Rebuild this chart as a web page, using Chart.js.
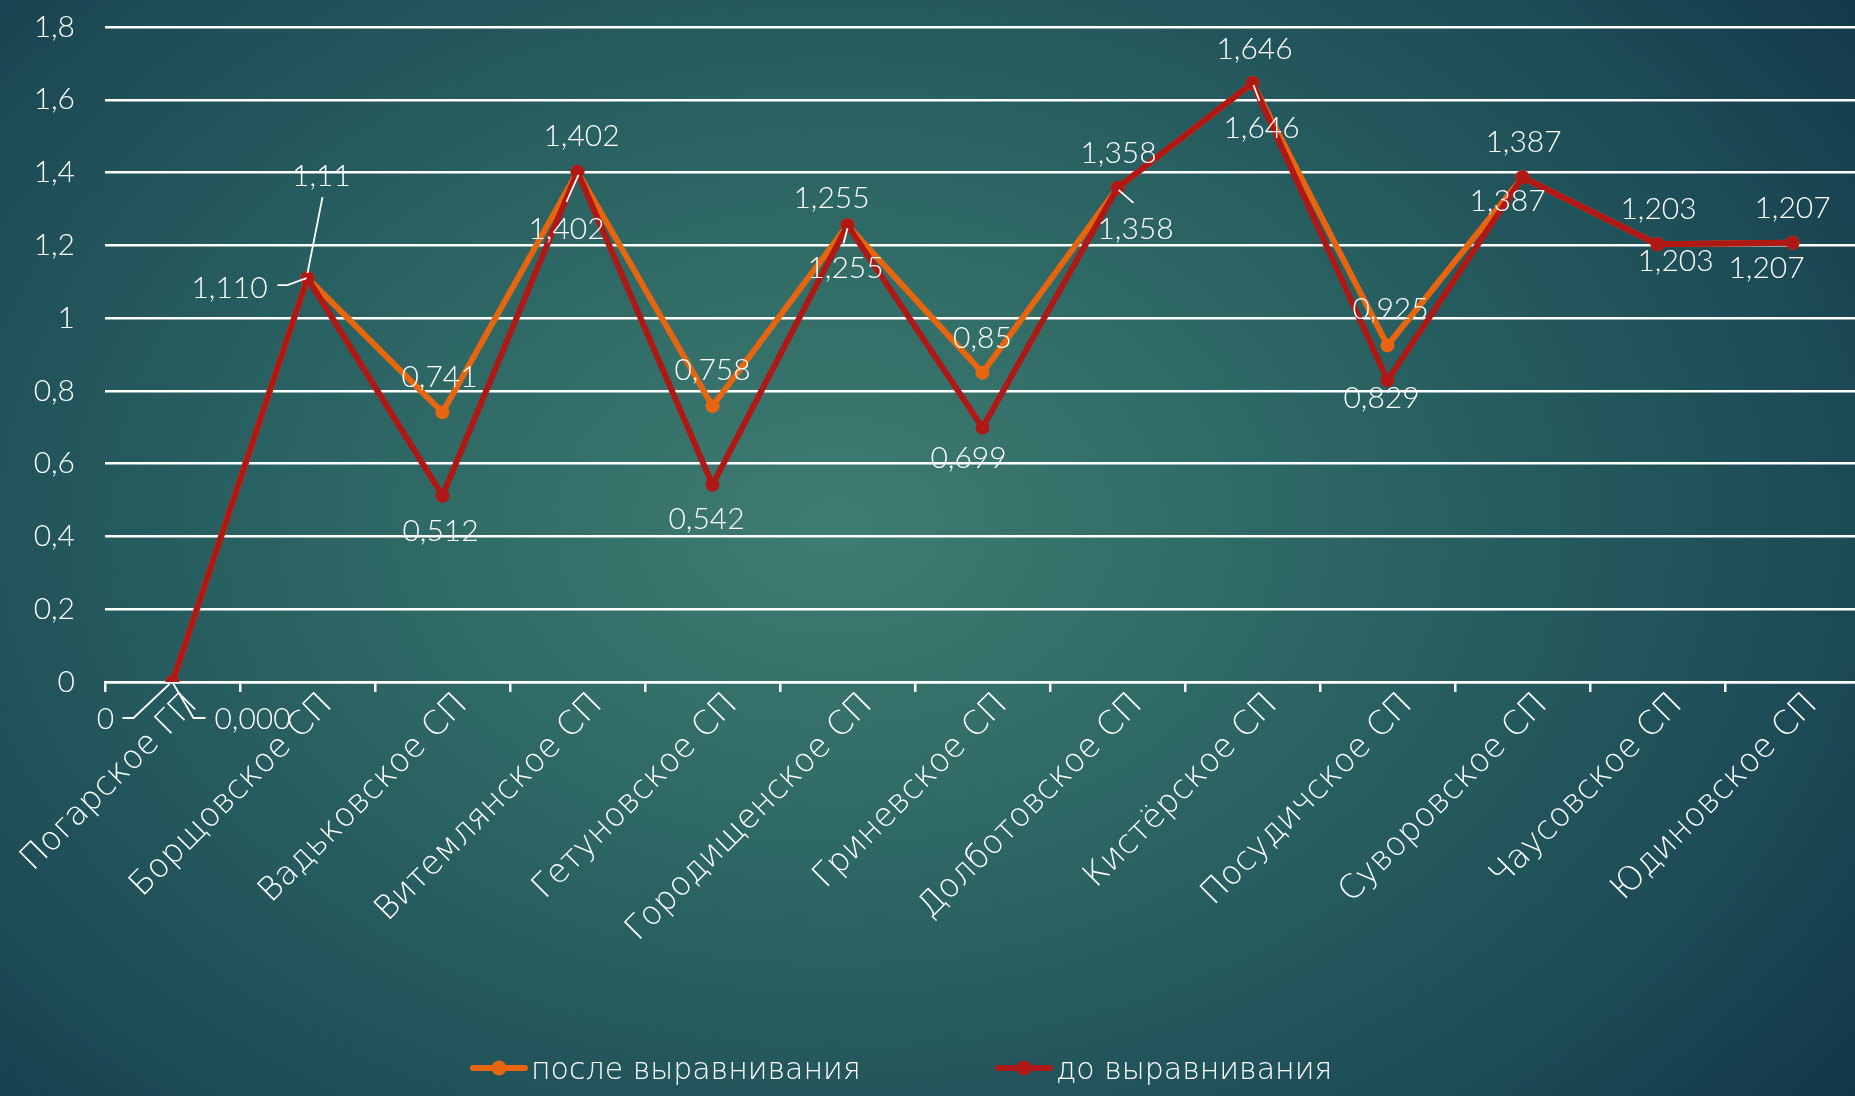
<!DOCTYPE html>
<html>
<head>
<meta charset="utf-8">
<script src="https://cdn.jsdelivr.net/npm/chart.js@4"></script>
<style>
html,body{margin:0;padding:0;width:1855px;height:1096px;overflow:hidden;}
body{background:radial-gradient(ellipse 70% 85% at 45% 48%, #3f7c71 0%, #316c67 28%, #265c5f 52%, #1c4a55 78%, #123646 100%);}
#wrap{position:absolute;left:0;top:0;width:1855px;height:1096px;}
</style>
</head>
<body>
<div id="wrap"><canvas id="c" width="1855" height="1096"></canvas></div>
<script>
// ---- data ----
const categories = ['Погарское ГП','Борщовское СП','Вадьковское СП','Витемлянское СП','Гетуновское СП','Городищенское СП','Гриневское СП','Долботовское СП','Кистёрское СП','Посудичское СП','Суворовское СП','Чаусовское СП','Юдиновское СП'];
const afterValues  = [0, 1.11, 0.741, 1.402, 0.758, 1.255, 0.85, 1.358, 1.646, 0.925, 1.387, 1.203, 1.207];
const beforeValues = [0, 1.110, 0.512, 1.402, 0.542, 1.255, 0.699, 1.358, 1.646, 0.829, 1.387, 1.203, 1.207];
const seriesNames = ['после выравнивания', 'до выравнивания'];
const yTickLabels = ['0','0,2','0,4','0,6','0,8','1','1,2','1,4','1,6','1,8'];

// ---- styling ----
const ORANGE = '#e8650f';
const RED = '#b01815';
const NUM_FONT = '300 30px Lato, "Open Sans", sans-serif';
const TXT_FAMILY = '"DejaVu Sans", "Open Sans", sans-serif';
const PLOT_RIGHT = 1860;

// data label placement (pixel offsets from the point, label centre) per series
const labelPlacement = [
  [ {dx:-67,dy:36, leader:[[-50,36],[-39,36],[-3,2]]}, {dx:14,dy:-103, leader:[[15,-81],[0,-5]]}, {dx:-3,dy:-36}, {dx:-11,dy:56, leader:[[1,3],[-11,30]]}, {dx:0,dy:-37}, {dx:-2,dy:42, leader:[[0,3],[-4,18]]}, {dx:0,dy:-36}, {dx:18,dy:40, leader:[[1,2],[16,15]]}, {dx:9,dy:44, leader:[[1,2],[7,18]]}, {dx:3,dy:-37}, {dx:-15,dy:23}, {dx:18,dy:16}, {dx:-26,dy:24} ],
  [ {dx:80,dy:36, leader:[[1,2],[21,36],[33,36]]}, {dx:-78,dy:9, leader:[[-30,7],[-20,7],[-1,0]]}, {dx:-2,dy:34}, {dx:4,dy:-37}, {dx:-6,dy:33}, {dx:-16,dy:-28}, {dx:-14,dy:29}, {dx:1,dy:-36}, {dx:2,dy:-35}, {dx:-6,dy:17}, {dx:1,dy:-36}, {dx:1,dy:-36}, {dx:0,dy:-36} ]
];
const labelFormat = [
  v => String(v).replace('.', ','),
  v => v.toFixed(3).replace('.', ',')
];

// stretch the plot area to the right edge as in the original slide
const stretchPlugin = {
  id: 'stretchRight',
  afterLayout(chart) {
    const xs = chart.scales.x;
    xs.right = PLOT_RIGHT;
    xs.width = PLOT_RIGHT - xs.left;
    xs.configure();
    chart.chartArea.right = PLOT_RIGHT;
    chart.chartArea.width = PLOT_RIGHT - chart.chartArea.left;
  }
};

const dataLabelPlugin = {
  id: 'dataLabels',
  afterDatasetsDraw(chart) {
    const ctx = chart.ctx;
    ctx.save();
    ctx.font = NUM_FONT;
    ctx.fillStyle = '#ffffff';
    ctx.strokeStyle = '#ffffff';
    ctx.lineWidth = 1.8;
    ctx.textAlign = 'center';
    ctx.textBaseline = 'alphabetic';
    chart.data.datasets.forEach((ds, di) => {
      const meta = chart.getDatasetMeta(di);
      meta.data.forEach((pt, i) => {
        const p = labelPlacement[di][i];
        if (p.leader) {
          ctx.beginPath();
          p.leader.forEach((q, k) => {
            if (k === 0) ctx.moveTo(pt.x + q[0], pt.y + q[1]);
            else ctx.lineTo(pt.x + q[0], pt.y + q[1]);
          });
          ctx.stroke();
        }
        ctx.fillText(labelFormat[di](ds.data[i]), pt.x + p.dx, pt.y + p.dy + 11);
      });
    });
    ctx.restore();
  }
};

const legendPlugin = {
  id: 'customLegend',
  afterDraw(chart) {
    const ctx = chart.ctx;
    const items = [
      {x: 471, color: ORANGE, text: seriesNames[0]},
      {x: 996, color: RED, text: seriesNames[1]}
    ];
    const y = 1068;
    ctx.save();
    items.forEach(it => {
      ctx.strokeStyle = it.color;
      ctx.lineWidth = 6;
      ctx.lineCap = 'round';
      ctx.beginPath();
      ctx.moveTo(it.x + 2, y);
      ctx.lineTo(it.x + 54, y);
      ctx.stroke();
      ctx.fillStyle = it.color;
      ctx.beginPath();
      ctx.arc(it.x + 28, y, 7.5, 0, Math.PI * 2);
      ctx.fill();
      ctx.fillStyle = '#ffffff';
      ctx.font = '200 30px ' + TXT_FAMILY;
      ctx.textAlign = 'left';
      ctx.textBaseline = 'middle';
      ctx.fillText(it.text, it.x + 60, y + 3);
    });
    ctx.restore();
  }
};

const X_AXIS_H = 300;
new Chart(document.getElementById('c'), {
  type: 'line',
  data: {
    labels: categories,
    datasets: [
      { label: seriesNames[0], data: afterValues, borderColor: ORANGE, backgroundColor: ORANGE,
        borderWidth: 6, pointRadius: 7, pointHoverRadius: 7, pointBorderWidth: 0, order: 1, tension: 0 },
      { label: seriesNames[1], data: beforeValues, borderColor: RED, backgroundColor: RED,
        borderWidth: 6, pointRadius: 7, pointHoverRadius: 7, pointBorderWidth: 0, order: 0, tension: 0 }
    ]
  },
  options: {
    responsive: false,
    animation: false,
    devicePixelRatio: 1,
    layout: { padding: { top: 27, left: 0, right: 0, bottom: 1096 - 682 - X_AXIS_H } },
    plugins: { legend: { display: false }, tooltip: { enabled: false } },
    scales: {
      x: {
        offset: true,
        afterFit(scale) { scale.height = X_AXIS_H; scale.paddingLeft = 0; scale.paddingRight = 0; },
        border: { display: true, color: '#ffffff', width: 2.5 },
        grid: { display: true, offset: true, drawOnChartArea: false, drawTicks: true, tickLength: 10, color: '#ffffff', lineWidth: 2.5 },
        ticks: { autoSkip: false, minRotation: 45, maxRotation: 45, padding: -6, labelOffset: 20, color: '#ffffff',
                 font: { family: TXT_FAMILY, size: 33, weight: 200 } }
      },
      y: {
        min: 0, max: 1.8,
        afterFit(scale) { scale.width = 105; scale.paddingTop = 0; scale.paddingBottom = 0; },
        border: { display: false },
        grid: { color: '#ffffff', lineWidth: 2.5, drawTicks: true, tickLength: 30, tickColor: 'rgba(0,0,0,0)' },
        ticks: { stepSize: 0.2, padding: 0, color: '#ffffff',
                 font: { family: 'Lato, "Open Sans", sans-serif', size: 30, weight: 300 },
                 callback: (v, i) => yTickLabels[i] }
      }
    }
  },
  plugins: [stretchPlugin, dataLabelPlugin, legendPlugin]
});
</script>
</body>
</html>
